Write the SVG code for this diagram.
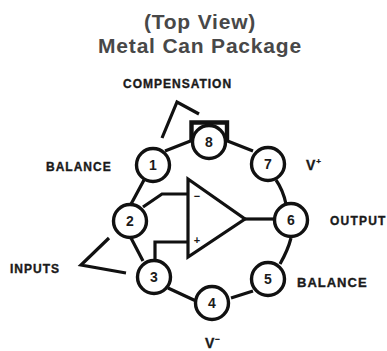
<svg xmlns="http://www.w3.org/2000/svg" width="387" height="351" viewBox="0 0 387 351">
<style>
.t{font-family:"Liberation Sans",Arial,sans-serif;font-weight:bold;font-size:21px;letter-spacing:.8px;fill:#484848;text-anchor:middle}
.l{font-family:"Liberation Sans",Arial,sans-serif;font-weight:bold;font-size:12px;fill:#1a1a1a;stroke:#1a1a1a;stroke-width:.35;letter-spacing:1px}
.n{font-family:"Liberation Sans",Arial,sans-serif;font-weight:bold;font-size:14px;fill:#1a1a1a;text-anchor:middle}
.s{font-family:"Liberation Sans",Arial,sans-serif;font-weight:bold;font-size:11px;fill:#1a1a1a;text-anchor:middle}
.c{fill:none;stroke:#111;stroke-width:3.2;stroke-linejoin:miter}
circle{fill:#fff;stroke:#111;stroke-width:3.4}
</style>
<rect width="387" height="351" fill="#fff"/>
<text class="t" x="200" y="29">(Top View)</text>
<text class="t" x="200" y="53">Metal Can Package</text>
<g id="connectors">
<path class="c" d="M165,151L193,140M225,140L253,151"/>
<path class="c" d="M144,180L130,206M286,204Q283,190 276,180M291,238Q288,250 280,264M253,291L231,298M196,301L168,288M131,238L143,261"/>
<path class="c" d="M143,207L162,194H187"/>
<path class="c" d="M155,262V242H187"/>
<path class="c" d="M245,219H275"/>
<path class="c" d="M162,138L177,102L199,114"/>
<path class="c" style="stroke-width:4.4" d="M191.5,140V122.5H227V140"/>
<path class="c" d="M109,238L81,265L126,273"/>
<path class="c" d="M188,179V257L245,219Z"/>
</g>
<g id="node-8"><circle cx="209" cy="142" r="16.5"/><text class="n" x="209" y="147">8</text></g>
<g id="node-1"><circle cx="153" cy="165" r="16.5"/><text class="n" x="153" y="170">1</text></g>
<g id="node-7"><circle cx="268" cy="164" r="16.5"/><text class="n" x="268" y="169">7</text></g>
<g id="node-2"><circle cx="130" cy="221" r="16.5"/><text class="n" x="130" y="226">2</text></g>
<g id="node-6"><circle cx="291" cy="220" r="16.5"/><text class="n" x="291" y="225">6</text></g>
<g id="node-3"><circle cx="154" cy="277" r="16.5"/><text class="n" x="154" y="282">3</text></g>
<g id="node-5"><circle cx="268" cy="279" r="16.5"/><text class="n" x="268" y="284">5</text></g>
<g id="node-4"><circle cx="212" cy="303" r="16.5"/><text class="n" x="212" y="308">4</text></g>
<g id="opamp-signs"><text class="s" x="197" y="200">−</text><text class="s" x="197" y="244">+</text></g>
<g id="labels">
<text class="l" x="123" y="88">COMPENSATION</text>
<text class="l" x="46" y="171">BALANCE</text>
<text class="l" x="306" y="170" style="font-size:14px">V<tspan font-size="8" dy="-6">+</tspan></text>
<text class="l" x="330" y="225" style="letter-spacing:1.2px">OUTPUT</text>
<text class="l" x="297" y="287" style="font-size:13px">BALANCE</text>
<text class="l" x="10" y="273">INPUTS</text>
<text class="l" x="205" y="348" style="font-size:14px">V<tspan font-size="8" dy="-6">−</tspan></text>
</g>
</svg>
